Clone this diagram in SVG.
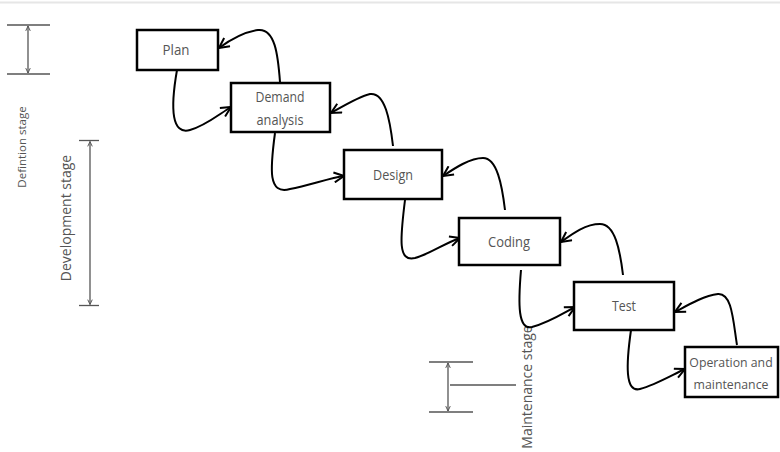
<svg xmlns="http://www.w3.org/2000/svg" width="780" height="452" viewBox="0 0 780 452">
<style>
.box{fill:#fff;stroke:#000;stroke-width:2.5}
.lbl{font-family:"Open Sans","Noto Sans",sans-serif;font-size:14.5px;fill:#555;text-anchor:middle}
.side{font-family:"Open Sans","Noto Sans",sans-serif;fill:#555;text-anchor:middle}
.con{fill:none;stroke:#000;stroke-width:2;marker-end:url(#ah)}
.brk{fill:none;stroke:#555;stroke-width:1.3}
.dim{fill:none;stroke:#555;stroke-width:1.3;marker-start:url(#sa);marker-end:url(#sa)}
</style>
<defs>
<marker id="ah" viewBox="0 0 12 12" refX="11" refY="6" markerWidth="12" markerHeight="12" markerUnits="userSpaceOnUse" orient="auto">
<path d="M1,1 L11,6 L1,11" fill="none" stroke="#000" stroke-width="2"/>
</marker>
<marker id="sa" viewBox="0 0 8 8" refX="7.5" refY="4" markerWidth="6" markerHeight="6" markerUnits="userSpaceOnUse" orient="auto-start-reverse">
<path d="M1,1 L7.5,4 L1,7" fill="none" stroke="#555" stroke-width="1.3"/>
</marker>
</defs>
<rect width="780" height="452" fill="#fff"/>
<line x1="0" y1="2.5" x2="780" y2="2.5" stroke="#e6e6e6" stroke-width="2"/>

<g id="definition-stage">
<line class="brk" x1="7" y1="25" x2="50" y2="25"/>
<line class="brk" x1="7" y1="74" x2="50" y2="74"/>
<line class="dim" x1="28" y1="26" x2="28" y2="73"/>
<text class="side" font-size="11.5" transform="translate(26,147) rotate(-90)">Defintion stage</text>
</g>
<g id="development-stage">
<line class="brk" x1="79" y1="140.5" x2="99" y2="140.5"/>
<line class="brk" x1="79" y1="305.5" x2="99" y2="305.5"/>
<line class="dim" x1="90" y1="141.5" x2="90" y2="304.5"/>
<text class="side" font-size="14" transform="translate(71,218) rotate(-90)">Development stage</text>
</g>
<g id="maintenance-stage">
<line class="brk" x1="429" y1="362" x2="473" y2="362"/>
<line class="brk" x1="429" y1="412" x2="473" y2="412"/>
<line class="dim" x1="448" y1="363" x2="448" y2="411"/>
<line class="brk" x1="450" y1="385" x2="516" y2="385"/>
<text class="side" font-size="14" transform="translate(532,387) rotate(-90)">Maintenance stage</text>
</g>

<g id="connectors">
<path class="con" d="M177,70 C170,110 172,135 190,130 C205,126 218,115 231,107"/>
<path class="con" d="M280,82 C278,55 275,28 258,30 C245,32 230,40 219,48"/>
<path class="con" d="M275,133 C270,170 268,195 290,189 C310,185 330,178 344,176"/>
<path class="con" d="M393,146 C390,120 385,92 370,94 C360,96 345,105 331,113"/>
<path class="con" d="M405,200 C400,240 398,262 415,258 C430,254 445,243 460,238"/>
<path class="con" d="M505,210 C502,185 497,158 483,158 C470,158 455,168 443,176"/>
<path class="con" d="M521,270 C518,305 518,330 532,327 C548,323 562,314 575,307"/>
<path class="con" d="M623,275 C620,250 615,224 600,224 C585,224 572,234 561,242"/>
<path class="con" d="M631,330 C626,365 625,393 640,389 C655,385 672,375 685,369"/>
<path class="con" d="M737,345 C733,320 732,293 718,294 C703,296 688,305 675,312"/>
</g>

<g id="plan">
<rect class="box" x="137" y="30" width="81" height="40"/>
<text class="lbl" x="176" y="55" textLength="27" lengthAdjust="spacingAndGlyphs">Plan</text>
</g>
<g id="demand-analysis">
<rect class="box" x="231" y="83" width="99" height="49"/>
<text class="lbl" x="280" y="102" textLength="49" lengthAdjust="spacingAndGlyphs">Demand</text>
<text class="lbl" x="280" y="125" textLength="47" lengthAdjust="spacingAndGlyphs">analysis</text>
</g>
<g id="design">
<rect class="box" x="344" y="150" width="98" height="49"/>
<text class="lbl" x="393" y="180" textLength="40" lengthAdjust="spacingAndGlyphs">Design</text>
</g>
<g id="coding">
<rect class="box" x="459" y="218" width="101" height="47"/>
<text class="lbl" x="509" y="247" textLength="42" lengthAdjust="spacingAndGlyphs">Coding</text>
</g>
<g id="test">
<rect class="box" x="574" y="282" width="100" height="48"/>
<text class="lbl" x="624" y="311" textLength="24" lengthAdjust="spacingAndGlyphs">Test</text>
</g>
<g id="operation-and-maintenance">
<rect class="box" x="685" y="347" width="93" height="50"/>
<text class="lbl" x="731" y="367" style="font-size:12.3px">Operation and</text>
<text class="lbl" x="731" y="389" style="font-size:12.3px">maintenance</text>
</g>
</svg>
